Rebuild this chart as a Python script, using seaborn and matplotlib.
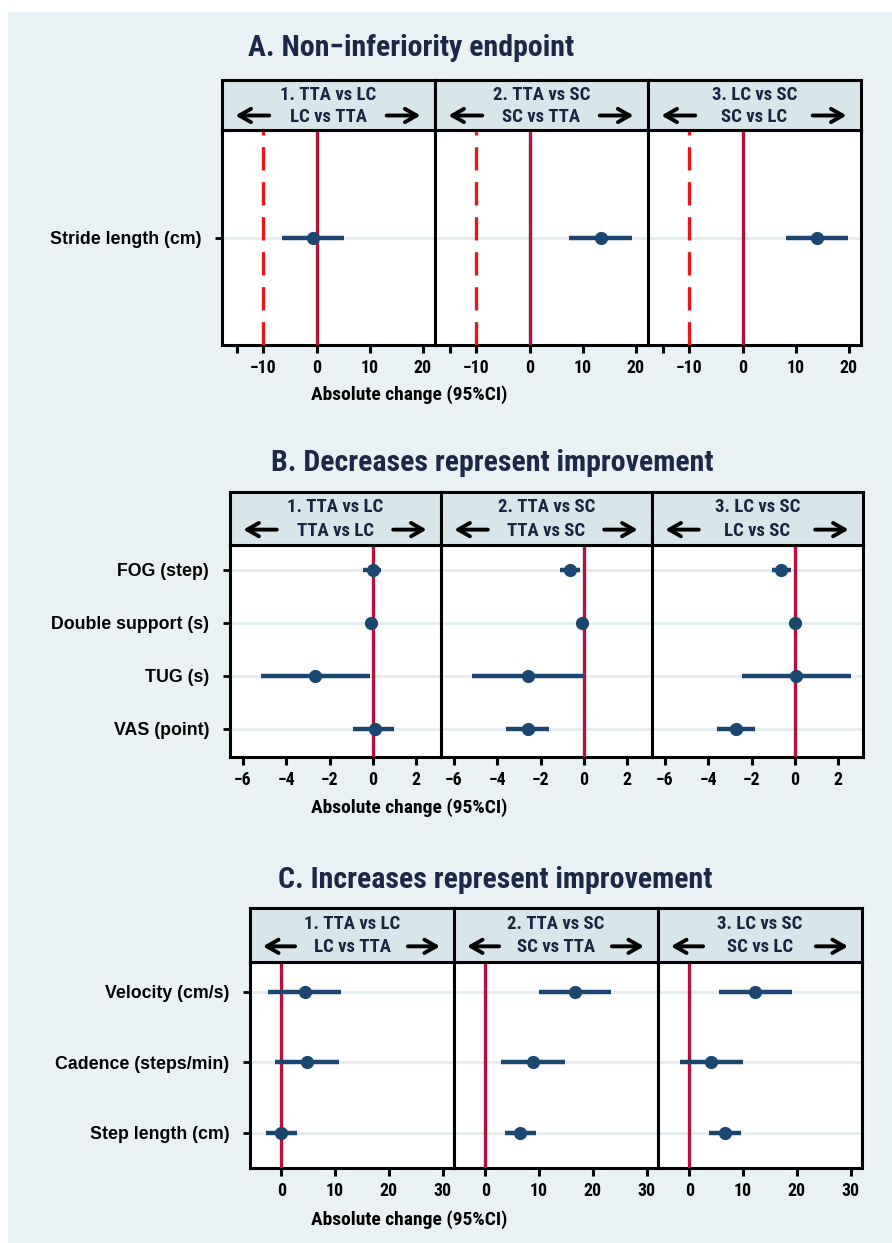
import numpy as np
import pandas as pd
import matplotlib
matplotlib.use("Agg")
import matplotlib.pyplot as plt
from matplotlib.patches import Rectangle
import seaborn as sns

# ---------------- data ----------------
comparisons = ["1", "2", "3"]

strip_top_A = ["1. TTA vs LC", "2. TTA vs SC", "3. LC vs SC"]
strip_bot_A = ["LC vs TTA", "SC vs TTA", "SC vs LC"]
strip_top_B = ["1. TTA vs LC", "2. TTA vs SC", "3. LC vs SC"]
strip_bot_B = ["TTA vs LC", "TTA vs SC", "LC vs SC"]
strip_top_C = ["1. TTA vs LC", "2. TTA vs SC", "3. LC vs SC"]
strip_bot_C = ["LC vs TTA", "SC vs TTA", "SC vs LC"]

outcomes_A = ["Stride length (cm)"]
est_A = [[-0.6], [13.4], [14.0]]
lo_A = [[-6.5], [7.5], [8.2]]
hi_A = [[5.2], [19.2], [19.8]]

outcomes_B = ["FOG (step)", "Double support (s)", "TUG (s)", "VAS (point)"]
est_B = [[0.0, -0.1, -2.65, 0.1],
         [-0.66, -0.1, -2.6, -2.6],
         [-0.66, 0.0, 0.05, -2.7]]
lo_B = [[-0.45, -0.12, -5.15, -0.9],
        [-1.1, -0.12, -5.15, -3.6],
        [-1.07, -0.02, -2.45, -3.6]]
hi_B = [[0.4, -0.08, -0.15, 1.0],
        [-0.2, -0.08, -0.05, -1.6],
        [-0.18, 0.02, 2.6, -1.85]]

outcomes_C = ["Velocity (cm/s)", "Cadence (steps/min)", "Step length (cm)"]
est_C = [[4.35, 4.85, 0.0],
         [16.6, 8.8, 6.5],
         [12.3, 4.05, 6.6]]
lo_C = [[-2.4, -1.1, -2.9],
        [9.9, 3.0, 3.7],
        [5.6, -1.8, 3.7]]
hi_C = [[11.1, 10.7, 2.9],
        [23.4, 14.85, 9.4],
        [19.1, 10.0, 9.6]]

ticks_A = [-15, -10, 0, 10, 20]
ticklabels_A = ["", "\u221210", "0", "10", "20"]
ticks_B = [-6, -4, -2, 0, 2]
ticklabels_B = ["\u22126", "\u22124", "\u22122", "0", "2"]
ticks_C = [0, 10, 20, 30]
ticklabels_C = ["0", "10", "20", "30"]

titles = ["A. Non\u2212inferiority endpoint",
          "B. Decreases represent improvement",
          "C. Increases represent improvement"]
xlabel = "Absolute change (95%CI)"
margin_A = -10


def make_df(outcomes, est, lo, hi):
    rows = []
    for ci, comp in enumerate(comparisons):
        for oi, o in enumerate(outcomes):
            rows.append(dict(comparison=comp, outcome=o,
                             est=est[ci][oi], lo=lo[ci][oi], hi=hi[ci][oi]))
    return pd.DataFrame(rows)


df_A = make_df(outcomes_A, est_A, lo_A, hi_A)
df_B = make_df(outcomes_B, est_B, lo_B, hi_B)
df_C = make_df(outcomes_C, est_C, lo_C, hi_C)

# ---------------- style ----------------
sns.set_theme(style="white")
NARROW = ["Roboto Condensed", "Liberation Sans", "DejaVu Sans"]
REG = ["Liberation Sans", "DejaVu Sans"]
plt.rcParams["font.family"] = NARROW
plt.rcParams["axes.unicode_minus"] = True
for k in ["text.color", "axes.labelcolor", "xtick.color", "ytick.color"]:
    plt.rcParams[k] = "black"

BG = "#e9f1f4"
STRIP = "#d8e5eb"
NAVY = "#1b4670"
CRIMSON = "#b3123b"
RED = "#e8161c"
TITLE_C = "#1c2848"
GRID = "#e4ecef"

W, H = 892, 1243
fig = plt.figure(figsize=(W / 100, H / 100), dpi=100, facecolor="white")
fig.patches.append(Rectangle((8 / W, 0), 1, (H - 12) / H, transform=fig.transFigure,
                             facecolor=BG, edgecolor="none", zorder=-10))


def rect(x0, y_top, w, h):
    return [x0 / W, (H - y_top - h) / H, w / W, h / H]


def draw_panel(df, outcomes, x0, fw, plot_top, plot_h, strip_h, xlim, ylim,
               ticks, ticklabels, strip_top, strip_bot, title, title_xy,
               xlabel_y, margin=None):
    fig.text(title_xy[0] / W, 1 - title_xy[1] / H, title, ha="center", va="center",
             fontsize=21.5, fontweight="bold", color=TITLE_C, family=NARROW)
    fig.text(409 / W, 1 - xlabel_y / H, xlabel, ha="center", va="center",
             fontsize=14, fontweight="bold", color="black", family=NARROW)
    for i, comp in enumerate(comparisons):
        left = x0 + i * fw
        ax = fig.add_axes(rect(left, plot_top, fw, plot_h))
        sub = df[df["comparison"] == comp]
        ax.set_facecolor("white")
        ypos = [outcomes.index(o) for o in sub["outcome"]]
        ax.hlines(ypos, xmin=sub["lo"], xmax=sub["hi"], color=NAVY, lw=3.2, zorder=4)
        sns.stripplot(data=sub, x="est", y="outcome", order=outcomes, jitter=False,
                      color=NAVY, size=9.5, ax=ax, zorder=5, linewidth=0)
        ax.axvline(0, color=CRIMSON, lw=2.4, zorder=3)
        if margin is not None:
            ax.axvline(margin, color=RED, lw=2.4, ls=(0, (7, 3.5)), zorder=3)
        ax.set_xlim(*xlim)
        ax.set_ylim(*ylim)
        for yy in range(len(outcomes)):
            ax.axhline(yy, color=GRID, lw=2, zorder=1)
        ax.set_xticks(ticks)
        ax.set_xticklabels(ticklabels)
        ax.set_xlabel("")
        ax.set_ylabel("")
        ax.tick_params(axis="x", direction="out", length=6, width=2.2, color="black",
                       bottom=True, labelsize=12.8, pad=4)
        for lab in ax.get_xticklabels():
            lab.set_fontweight("bold")
        if i == 0:
            ax.tick_params(axis="y", direction="out", length=5, width=2, color="black",
                           left=True, labelsize=12.8, pad=10)
            for lab in ax.get_yticklabels():
                lab.set_fontweight("bold")
                lab.set_family(REG)
        else:
            ax.tick_params(axis="y", left=False, labelleft=False)
        for sp in ax.spines.values():
            sp.set_color("black")
            sp.set_linewidth(2.2)
        # strip
        sax = fig.add_axes(rect(left, plot_top - strip_h, fw, strip_h))
        sax.set_facecolor(STRIP)
        sax.set_xticks([])
        sax.set_yticks([])
        sax.set_xlim(0, 1)
        sax.set_ylim(0, 1)
        for sp in sax.spines.values():
            sp.set_color("black")
            sp.set_linewidth(2.2)
        sax.text(0.5, 0.71, strip_top[i], ha="center", va="center", fontsize=13.5,
                 fontweight="bold", color="#1a2440")
        sax.text(0.5, 0.27, strip_bot[i], ha="center", va="center", fontsize=13.5,
                 fontweight="bold", color="#1a2440")
        arr = dict(arrowstyle="->,head_length=0.7,head_width=0.4", lw=2.8, color="black")
        sax.annotate("", xy=(0.05, 0.29), xytext=(0.235, 0.29), arrowprops=arr)
        sax.annotate("", xy=(0.945, 0.29), xytext=(0.76, 0.29), arrowprops=arr)


draw_panel(df_A, outcomes_A, 222, 213, 130, 215, 50, (-17.8, 22.3), (0.5, -0.5),
           ticks_A, ticklabels_A, strip_top_A, strip_bot_A, titles[0], (411, 48), 395,
           margin=margin_A)
draw_panel(df_B, outcomes_B, 230, 211, 545, 212, 53, (-6.6, 3.15), (3.53, -0.47),
           ticks_B, ticklabels_B, strip_top_B, strip_bot_B, titles[1], (492, 463), 808)
draw_panel(df_C, outcomes_C, 250, 204, 962, 206, 54, (-5.8, 32.1), (2.5, -0.425),
           ticks_C, ticklabels_C, strip_top_C, strip_bot_C, titles[2], (495, 880), 1220)

fig.savefig("out.png", dpi=100, facecolor=fig.get_facecolor())
